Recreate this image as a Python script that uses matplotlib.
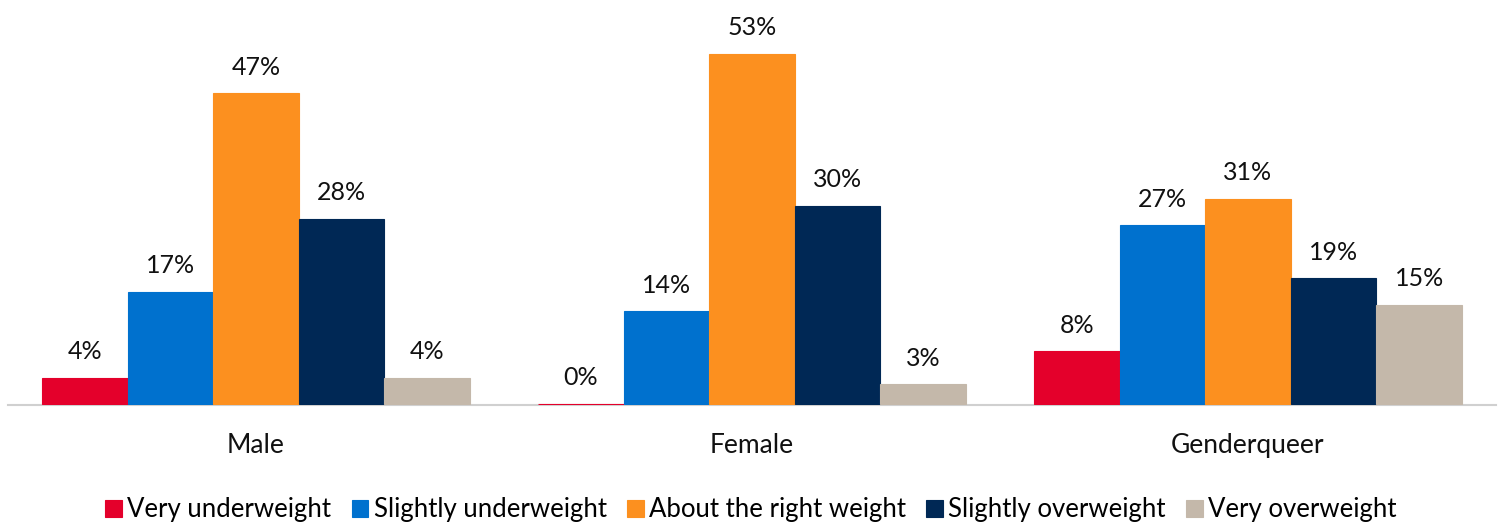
import matplotlib
matplotlib.use("Agg")
import matplotlib.pyplot as plt
import numpy as np

plt.rcParams['font.family'] = ['Lato', 'DejaVu Sans']

groups = ["Male", "Female", "Genderqueer"]
series = ["Very underweight", "Slightly underweight", "About the right weight",
          "Slightly overweight", "Very overweight"]
very_under = [4, 0, 8]
slightly_under = [17, 14, 27]
about_right = [47, 53, 31]
slightly_over = [28, 30, 19]
very_over = [4, 3, 15]

colors = ["#E4002B", "#0071CE", "#FC901F", "#002855", "#C4B8AA"]
values = [very_under, slightly_under, about_right, slightly_over, very_over]

fig = plt.figure(figsize=(15.02, 5.27), dpi=100)
ax = fig.add_axes([8 / 1502, (527 - 405) / 527, 1488 / 1502, 405 / 527])

x = np.arange(len(groups))
width = 0.1725
for i, (name, vals, c) in enumerate(zip(series, values, colors)):
    pos = x + (i - 2) * width
    ax.bar(pos, vals, width, color=c, edgecolor=c, linewidth=0.8, label=name, zorder=3)
    for px, v in zip(pos, vals):
        ax.text(px, v + 2.2, f"{v}%", ha="center", va="bottom", fontsize=18, color="#111111")

ax.set_xlim(-0.5, 2.5)
ax.set_ylim(-0.15, 61.1)
ax.set_yticks([])
ax.set_xticks(x)
ax.set_xticklabels(groups, fontsize=19, color="#111111")
ax.tick_params(axis="x", length=0, pad=20)
for side in ["top", "right", "left"]:
    ax.spines[side].set_visible(False)
ax.spines["bottom"].set_color("#D0D0D0")
ax.spines["bottom"].set_linewidth(1.5)

fig.legend(loc="center", bbox_to_anchor=(0.5, 1 - 510 / 527), ncol=5, frameon=False,
           fontsize=18.5, handlelength=0.65, handleheight=0.65, handletextpad=0.2,
           columnspacing=0.8, borderaxespad=0)

fig.savefig("out.png", dpi=100, facecolor="white")
